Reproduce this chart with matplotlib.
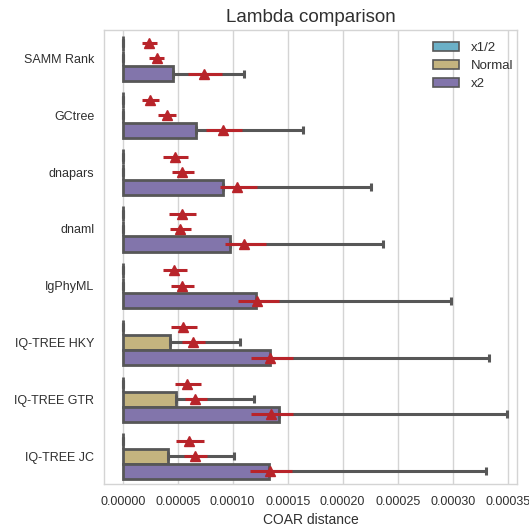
"""
Lambda comparison: COAR distance per method for three lambda scalings.
Bars = median (gray whisker = upper CI), red triangles = mean with CI.
"""

import matplotlib
matplotlib.use("Agg")
import matplotlib.pyplot as plt
from matplotlib.patches import Patch

methods = ["SAMM Rank", "GCtree", "dnapars", "dnaml", "IgPhyML",
           "IQ-TREE HKY", "IQ-TREE GTR", "IQ-TREE JC"]
scalings = ["x1/2", "Normal", "x2"]

# median COAR distance (bar length) and upper CI of the median
half_med = [0.0, 0.0, 0.0, 0.0, 0.0, 0.0, 0.0, 0.0]
normal_med = [0.0, 0.0, 0.0, 0.0, 0.0, 0.0000430, 0.0000485, 0.0000409]
double_med = [0.0000455, 0.0000667, 0.0000909, 0.0000978, 0.0001212,
              0.0001339, 0.0001424, 0.0001327]

half_med_hi = [0.0, 0.0, 0.0, 0.0, 0.0, 0.0, 0.0, 0.0]
normal_med_hi = [0.0, 0.0, 0.0, 0.0, 0.0, 0.0001067, 0.0001197, 0.0001009]
double_med_hi = [0.0001103, 0.0001642, 0.0002254, 0.0002369, 0.0002985,
                 0.0003330, 0.0003497, 0.0003305]

# mean COAR distance with its CI
half_mean = [0.0000236, 0.0000248, 0.0000479, 0.0000542, 0.0000467,
             0.0000551, 0.0000588, 0.0000606]
half_lo = [0.0000173, 0.0000179, 0.0000370, 0.0000424, 0.0000364,
           0.0000439, 0.0000473, 0.0000488]
half_hi = [0.0000309, 0.0000333, 0.0000597, 0.0000664, 0.0000582,
           0.0000676, 0.0000715, 0.0000736]

normal_mean = [0.0000309, 0.0000403, 0.0000536, 0.0000521, 0.0000536,
               0.0000636, 0.0000658, 0.0000658]
normal_lo = [0.0000242, 0.0000324, 0.0000445, 0.0000430, 0.0000439,
             0.0000539, 0.0000567, 0.0000558]
normal_hi = [0.0000378, 0.0000488, 0.0000645, 0.0000618, 0.0000648,
             0.0000748, 0.0000767, 0.0000769]

double_mean = [0.0000742, 0.0000912, 0.0001036, 0.0001103, 0.0001224,
               0.0001342, 0.0001345, 0.0001339]
double_lo = [0.0000596, 0.0000757, 0.0000885, 0.0000930, 0.0001051,
             0.0001164, 0.0001167, 0.0001158]
double_hi = [0.0000905, 0.0001088, 0.0001218, 0.0001300, 0.0001421,
             0.0001545, 0.0001545, 0.0001536]

colors = ["#6bb0c7", "#c4b47f", "#8275ab"]
EDGE = "#575757"
RED = "#b8242a"
TEXT = "#303030"

plt.rcParams["font.family"] = ["Liberation Sans", "DejaVu Sans"]


def main():
    fig = plt.figure(figsize=(5.29, 5.26), dpi=100)
    ax = fig.add_axes([0.1966, 0.0789, 0.7807, 0.8641])

    meds = [half_med, normal_med, double_med]
    med_his = [half_med_hi, normal_med_hi, double_med_hi]
    means = [half_mean, normal_mean, double_mean]
    los = [half_lo, normal_lo, double_lo]
    his = [half_hi, normal_hi, double_hi]

    width = 0.8 / 3
    for h in range(3):
        off = (h - 1) * width
        ys = [i + off for i in range(len(methods))]
        ax.barh(ys, meds[h], height=width, color=colors[h], edgecolor=EDGE,
                linewidth=2, zorder=2)
        # gray whisker from median to its upper CI
        err = [[0] * len(ys), [hi - m for hi, m in zip(med_his[h], meds[h])]]
        ax.errorbar(meds[h], ys, xerr=err, fmt="none", ecolor=EDGE,
                    elinewidth=2.2, capsize=3, capthick=2.2, zorder=3)
        # mean +- CI
        merr = [[m - lo for m, lo in zip(means[h], los[h])],
                [hi - m for hi, m in zip(his[h], means[h])]]
        ax.errorbar(means[h], ys, xerr=merr, fmt="^", color=RED, ecolor=RED,
                    elinewidth=2.2, markersize=7.5, capsize=0, zorder=4)

    ax.set_xlim(-0.000017, 0.0003585)
    ax.set_ylim(len(methods) - 0.5, -0.5)
    ax.set_yticks(range(len(methods)))
    ax.set_yticklabels(methods, fontsize=9, color=TEXT)
    ax.set_xticks([i * 0.00005 for i in range(8)])
    ax.set_xticklabels([f"{i * 0.00005:.5f}" for i in range(8)],
                       fontsize=9, color=TEXT)
    ax.tick_params(axis="both", length=0)
    ax.tick_params(axis="y", pad=7)
    ax.tick_params(axis="x", pad=8)
    ax.grid(axis="x", color="#d4d4d4", linewidth=1, zorder=0)
    ax.set_axisbelow(True)
    for s in ax.spines.values():
        s.set_color("#d4d4d4")
        s.set_linewidth(1)

    ax.set_xlabel("COAR distance", fontsize=10, color=TEXT, labelpad=4)
    ax.set_title("Lambda comparison", fontsize=13.5, color=TEXT, pad=6)

    handles = [Patch(facecolor=c, edgecolor=EDGE, linewidth=1.2) for c in colors]
    ax.legend(handles, scalings, loc="upper right", bbox_to_anchor=(1.02, 1.0),
              frameon=False, fontsize=9.5, handlelength=2.0, handleheight=0.7,
              handletextpad=0.9, borderaxespad=0.5, labelspacing=0.45,
              labelcolor=TEXT)

    fig.savefig("out.png", dpi=100)
    plt.close(fig)


if __name__ == "__main__":
    main()
